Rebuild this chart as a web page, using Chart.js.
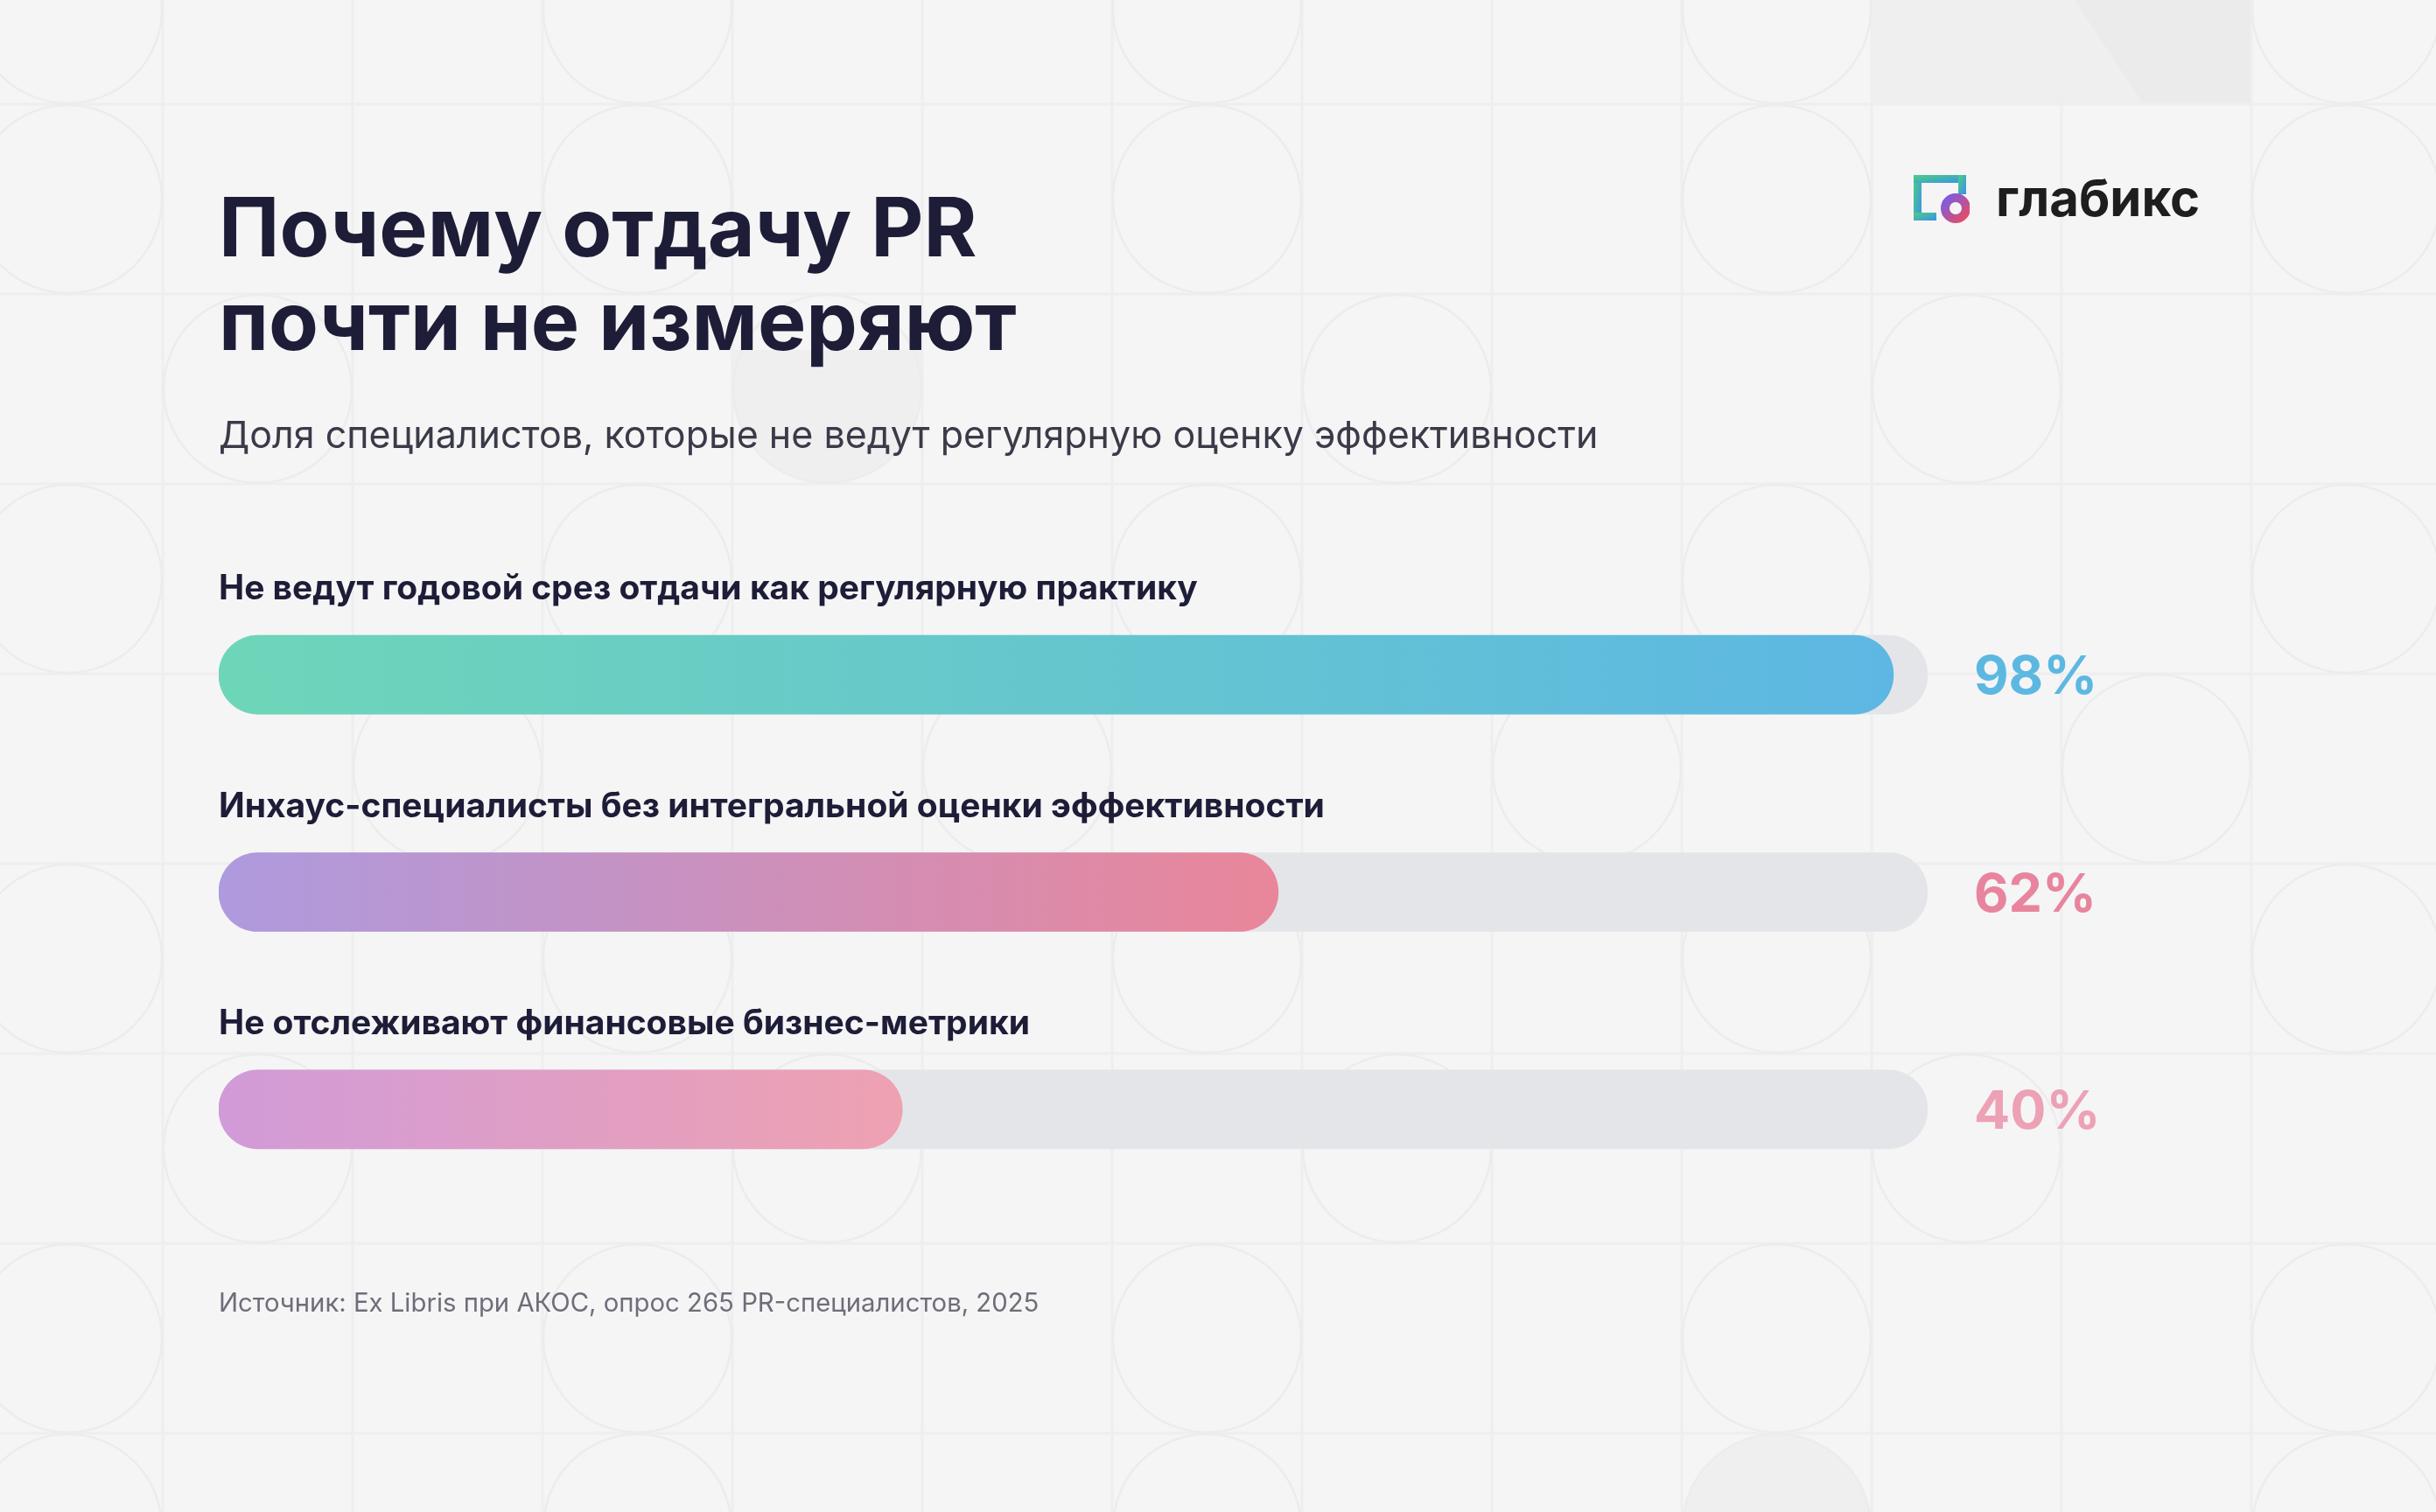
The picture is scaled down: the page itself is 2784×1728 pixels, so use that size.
<!DOCTYPE html>
<html lang="ru">
<head>
<meta charset="utf-8">
<script src="https://cdn.jsdelivr.net/npm/chart.js@4.4.1/dist/chart.umd.min.js"></script>
<style>
  html, body { margin: 0; padding: 0; background: #f5f5f6; }
  body { width: 2784px; height: 1728px; position: relative; overflow: hidden; font-family: Inter, "Noto Sans", sans-serif; }
  #stats { position: absolute; left: 0; top: 0; }
  .txt { position: absolute; white-space: nowrap; line-height: 1.21; }
  .title { font-size: 93px; font-weight: 700; color: #1e1d38; letter-spacing: 0; }
  .subtitle { font-size: 43px; font-weight: 400; color: #3a3a48; }
  .source { font-size: 29.3px; font-weight: 400; color: #6e6e7a; }
  .brand { font-size: 58px; font-weight: 700; color: #1e1e1e; }
  #logoIcon { position: absolute; left: 2187px; top: 200px; }
</style>
</head>
<body>
<canvas id="stats" width="2784" height="1728"></canvas>

<div class="txt title" style="left:250px; top:203px;">Почему отдачу PR</div>
<div class="txt title" style="left:250px; top:310px;">почти не измеряют</div>
<div class="txt subtitle" style="left:250px; top:470px;">Доля специалистов, которые не ведут регулярную оценку эффективности</div>
<div class="txt source" style="left:250px; top:1471px;">Источник: Ex Libris при АКОС, опрос 265 PR-специалистов, 2025</div>

<svg id="logoIcon" width="64" height="60" viewBox="0 0 64 60">
  <defs>
    <linearGradient id="gFrame" x1="0" y1="0" x2="1" y2="1">
      <stop offset="0" stop-color="#4cd07d"/>
      <stop offset="1" stop-color="#3b8ff0"/>
    </linearGradient>
    <linearGradient id="gRing" x1="0" y1="0" x2="1" y2="1">
      <stop offset="0" stop-color="#7b5ce6"/>
      <stop offset="1" stop-color="#e54c66"/>
    </linearGradient>
  </defs>
  <rect x="0" y="0" width="9" height="52" fill="url(#gFrame)"/>
  <rect x="0" y="0" width="60" height="9" fill="url(#gFrame)"/>
  <rect x="51" y="0" width="9" height="22" fill="url(#gFrame)"/>
  <rect x="0" y="43" width="26" height="9" fill="url(#gFrame)"/>
  <circle cx="48" cy="38" r="12" fill="none" stroke="url(#gRing)" stroke-width="10"/>
</svg>
<div class="txt brand" style="left:2281px; top:191px;">глабикс</div>

<script>
// данные
const categories = [
    'Не ведут годовой срез отдачи как регулярную практику',
    'Инхаус-специалисты без интегральной оценки эффективности',
    'Не отслеживают финансовые бизнес-метрики'
];
const shares = [98, 62, 40];
const fullScale = [100, 100, 100];

// стили
const barGradients = [
    ['#6dd6b8', '#5db7e3'],
    ['#ae9ade', '#e9869a'],
    ['#d19bd8', '#eea1b1']
];
const valueColors = ['#5db8e1', '#e8849e', '#eda1b5'];

// фоновый узор: сетка и круги
const bgPattern = {
    id: 'bgPattern',
    beforeDraw(chart) {
        const ctx = chart.ctx;
        ctx.save();
        ctx.fillStyle = '#f5f5f6';
        ctx.fillRect(0, 0, chart.width, chart.height);

        // тёмный блок сверху справа
        ctx.fillStyle = '#efefef';
        ctx.fillRect(2139, 0, 434, 119);
        ctx.fillStyle = '#ebebeb';
        ctx.beginPath();
        ctx.moveTo(2371, 0); ctx.lineTo(2573, 0); ctx.lineTo(2573, 119); ctx.lineTo(2450, 119);
        ctx.closePath(); ctx.fill();

        // заливки-полукруги
        ctx.fillStyle = '#efeff0';
        ctx.beginPath();
        ctx.moveTo(838, 400);
        ctx.lineTo(1054, 400);
        ctx.arc(946, 444, 108, 0, Math.PI);
        ctx.closePath(); ctx.fill();
        ctx.beginPath();
        ctx.arc(2031, 1746, 108, Math.PI, 2 * Math.PI);
        ctx.fill();

        const step = 217;
        ctx.strokeStyle = '#eeeeef';
        ctx.lineWidth = 3;
        for (let x = 186; x < chart.width; x += step) {
            ctx.beginPath(); ctx.moveTo(x, 0); ctx.lineTo(x, chart.height); ctx.stroke();
        }
        for (let y = 119; y < chart.height; y += step) {
            ctx.beginPath(); ctx.moveTo(0, y); ctx.lineTo(chart.width, y); ctx.stroke();
        }
        const rowOffsets = [0, 0, 1, 0, 2, 0, 1, 0, 0];
        ctx.strokeStyle = '#ececed';
        ctx.lineWidth = 2.5;
        for (let r = 0; r < rowOffsets.length; r++) {
            for (let c = 0; c < 13; c++) {
                if ((c - rowOffsets[r] + 3) % 3 !== 0) continue;
                const cx = 186 + step * (c - 1) + step / 2;
                const cy = 119 + step * (r - 1) + step / 2;
                ctx.beginPath();
                ctx.arc(cx, cy, step / 2 - 1, 0, Math.PI * 2);
                ctx.stroke();
            }
        }
        ctx.restore();
    }
};

// подписи над полосами и проценты справа
const barLabels = {
    id: 'barLabels',
    afterDatasetsDraw(chart) {
        const ctx = chart.ctx;
        const yScale = chart.scales.y;
        ctx.save();
        ctx.textAlign = 'left';
        ctx.textBaseline = 'alphabetic';
        categories.forEach((cat, i) => {
            const yc = yScale.getPixelForValue(i);
            ctx.font = '700 39px Inter';
            ctx.fillStyle = '#1e1d38';
            ctx.fillText(cat, chart.chartArea.left, yc - 86);

            ctx.font = '700 61px Inter';
            ctx.fillStyle = valueColors[i];
            ctx.fillText(shares[i] + '%', 2256, yc + 22);
        });
        ctx.restore();
    }
};

function barFill(context) {
    const chart = context.chart;
    if (!chart.chartArea) return barGradients[context.dataIndex][0];
    const xScale = chart.scales.x;
    const x0 = xScale.getPixelForValue(0);
    const x1 = xScale.getPixelForValue(shares[context.dataIndex]);
    const g = chart.ctx.createLinearGradient(x0, 0, x1, 0);
    g.addColorStop(0, barGradients[context.dataIndex][0]);
    g.addColorStop(1, barGradients[context.dataIndex][1]);
    return g;
}

const ctx = document.getElementById('stats').getContext('2d');
new Chart(ctx, {
    type: 'bar',
    data: {
        labels: categories,
        datasets: [
            {
                data: shares,
                backgroundColor: barFill,
                borderRadius: 45,
                borderSkipped: false,
                barThickness: 90,
                grouped: false,
                order: 0
            },
            {
                data: fullScale,
                backgroundColor: '#e4e5e8',
                borderRadius: 45,
                borderSkipped: false,
                barThickness: 90,
                grouped: false,
                order: 1
            }
        ]
    },
    options: {
        indexAxis: 'y',
        responsive: false,
        animation: false,
        layout: {
            padding: { left: 250, right: 581, top: 647, bottom: 336 }
        },
        scales: {
            x: { display: false, min: 0, max: 100 },
            y: { display: false }
        },
        plugins: {
            legend: { display: false },
            tooltip: { enabled: false }
        }
    },
    plugins: [bgPattern, barLabels]
});
</script>
</body>
</html>
